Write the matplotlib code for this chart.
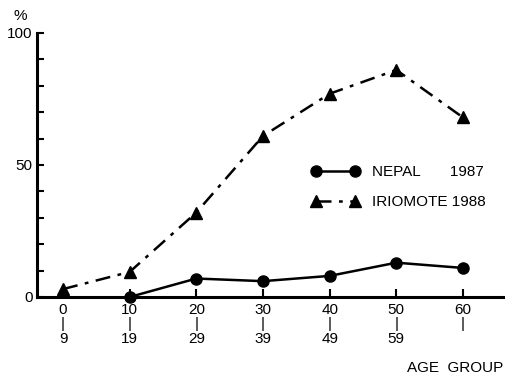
import matplotlib
matplotlib.use("Agg")
import matplotlib.pyplot as plt

age_start = [0, 10, 20, 30, 40, 50, 60]
age_labels = ["0\n|\n9", "10\n|\n19", "20\n|\n29", "30\n|\n39", "40\n|\n49", "50\n|\n59", "60\n|\n "]
nepal_x = [10, 20, 30, 40, 50, 60]
nepal = [0, 7, 6, 8, 13, 11]
iriomote_x = [0, 10, 20, 30, 40, 50, 60]
iriomote = [3, 9.5, 32, 61, 77, 86, 68]

plt.rcParams['font.family'] = ['Liberation Sans', 'DejaVu Sans']

fig = plt.figure(figsize=(5.05, 3.81), dpi=100)
ax = fig.add_axes([37/505, 1-297/381, 1-37/505, 264/381])

ax.plot(nepal_x, nepal, color='black', lw=1.8, marker='o', ms=8,
        label='NEPAL       1987', clip_on=False, zorder=3)
ax.plot(iriomote_x, iriomote, color='black', lw=1.8, marker='^', ms=9,
        dashes=(6, 3, 1.5, 3), label='IRIOMOTE 1988', clip_on=False, zorder=3)

ax.set_xlim(-3.9, 66.3)
ax.set_ylim(0, 100)
for s in ['top', 'right']:
    ax.spines[s].set_visible(False)
for s in ['left', 'bottom']:
    ax.spines[s].set_linewidth(2.2)

ax.set_xticks(age_start)
ax.set_xticklabels(age_labels, fontsize=11, linespacing=1.05)
ax.set_yticks([0, 50, 100])
ax.set_yticklabels(['0', '50', '100'], fontsize=11)
ax.set_yticks(range(0, 101, 10), minor=True)
ax.tick_params(axis='both', which='both', direction='in', width=1.5)
ax.tick_params(axis='x', which='major', length=6, pad=4)
ax.tick_params(axis='y', which='major', length=5, pad=3)
ax.tick_params(axis='y', which='minor', length=5)

fig.text(20/505, 1-16/381, '%', fontsize=11, ha='center', va='center')
fig.text(503/505, 1-368/381, 'AGE  GROUP', fontsize=11, ha='right', va='center')

leg = ax.legend(loc='upper left', bbox_to_anchor=((305-37)/468, 1-(159-33)/264),
                frameon=False, fontsize=11, numpoints=2, handlelength=3.2,
                handletextpad=0.8, labelspacing=1.05, borderaxespad=0)

fig.savefig('out.png', dpi=100)
